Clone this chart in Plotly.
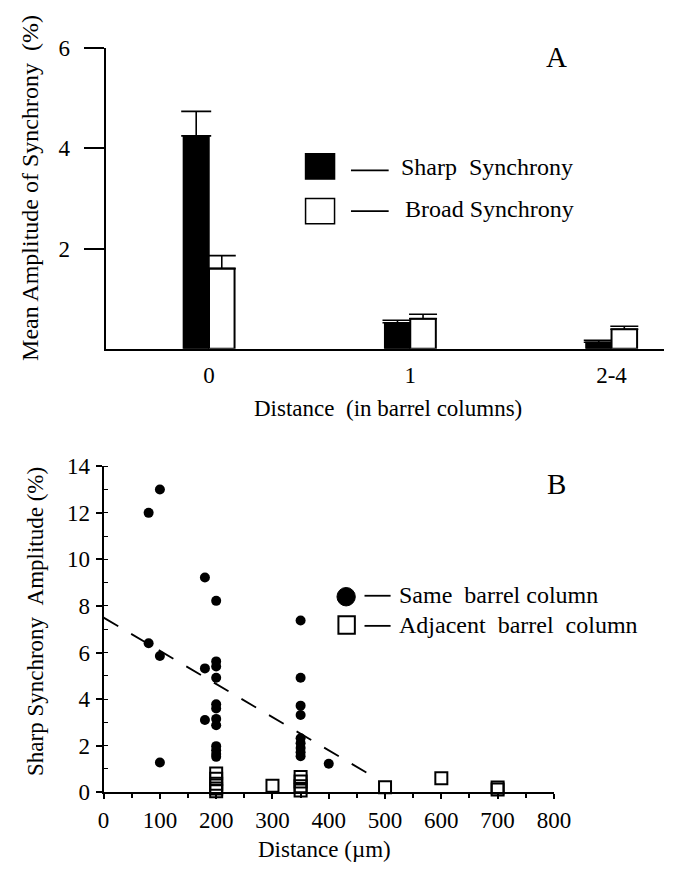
import plotly.graph_objects as go

# ---------------- Panel A: mean synchrony amplitude by barrel-column distance
col_labels = ["0", "1", "2-4"]
col_pos = [0, 1, 2]
sharp_mean = [4.25, 0.52, 0.13]
sharp_err = [0.49, 0.05, 0.04]
broad_mean = [1.60, 0.60, 0.39]
broad_err = [0.26, 0.09, 0.06]

# ---------------- Panel B: sharp synchrony amplitude vs. distance (µm)
same_x = [80, 80, 100, 100, 100,
          180, 180, 180,
          200, 200, 200, 200, 200, 200, 200, 200, 200, 200, 200, 200,
          350, 350, 350, 350, 350, 350, 350, 350, 350,
          400]
same_y = [12.0, 6.4, 13.0, 5.85, 1.28,
          9.22, 5.32, 3.1,
          8.22, 5.62, 5.4, 4.92, 3.78, 3.6, 3.15, 2.88, 1.98, 1.8, 1.64, 1.52,
          7.38, 4.92, 3.72, 3.32, 2.32, 2.1, 1.9, 1.72, 1.55,
          1.22]
adj_x = [200, 200, 200, 200, 200, 300, 350, 350, 350, 350, 500, 600, 700, 700]
adj_y = [0.8, 0.58, 0.36, 0.16, 0.04, 0.28, 0.66, 0.46, 0.26, 0.08, 0.22, 0.6, 0.2, 0.12]

# regression line through the same-column data
fit_intercept = 7.5
fit_slope = -0.01425
fit_x_end = 470

W, H = 683, 871
FONT = "Liberation Serif"


def px(x):
    return x / W


def py(y):
    return 1 - y / H


fig = go.Figure()

# bars (panel A)
bar_w = 0.127
fig.add_trace(go.Bar(
    x=col_pos, y=sharp_mean, width=bar_w, offset=-bar_w,
    marker=dict(color="black", line=dict(color="black", width=1.5)),
    error_y=dict(type="data", symmetric=False, array=sharp_err,
                 arrayminus=[0] * len(sharp_err), color="black",
                 thickness=1.6, width=15),
    xaxis="x", yaxis="y", showlegend=False))
fig.add_trace(go.Bar(
    x=col_pos, y=broad_mean, width=bar_w, offset=0,
    marker=dict(color="white", line=dict(color="black", width=2)),
    error_y=dict(type="data", symmetric=False, array=broad_err,
                 arrayminus=[0] * len(broad_err), color="black",
                 thickness=1.6, width=14),
    xaxis="x", yaxis="y", showlegend=False))

# scatter (panel B)
fig.add_trace(go.Scatter(
    x=[0, fit_x_end],
    y=[fit_intercept, fit_intercept + fit_slope * fit_x_end],
    mode="lines", line=dict(color="black", width=1.8, dash="17px,15px"),
    xaxis="x2", yaxis="y2", showlegend=False, cliponaxis=False))
fig.add_trace(go.Scatter(
    x=adj_x, y=adj_y, mode="markers",
    marker=dict(symbol="square-open", size=12, color="black",
                line=dict(width=2, color="black")),
    xaxis="x2", yaxis="y2", showlegend=False, cliponaxis=False))
fig.add_trace(go.Scatter(
    x=same_x, y=same_y, mode="markers",
    marker=dict(symbol="circle", size=10, color="black"),
    xaxis="x2", yaxis="y2", showlegend=False, cliponaxis=False))

tickfont = dict(family=FONT, size=23, color="black")

fig.update_layout(
    width=W, height=H,
    margin=dict(l=0, r=0, t=0, b=0),
    paper_bgcolor="white", plot_bgcolor="white",
    barmode="overlay",
    font=dict(family=FONT, color="black"),
    xaxis=dict(domain=[px(103), px(681)], range=[-0.514, 2.261],
               tickmode="array", tickvals=col_pos, ticktext=col_labels,
               ticks="", showgrid=False, zeroline=False,
               showline=True, linecolor="black", linewidth=2,
               tickfont=tickfont, ticklabelstandoff=5,
               anchor="y", fixedrange=True),
    yaxis=dict(domain=[py(346.7), py(37.3)], range=[0, 6],
               tickvals=[2, 4, 6], ticks="outside", ticklen=20,
               tickwidth=1.6, tickcolor="black", showgrid=False,
               zeroline=False, showline=True, linecolor="black",
               linewidth=2, tickfont=tickfont, ticklabelstandoff=9,
               anchor="x"),
    xaxis2=dict(domain=[px(101), px(567)], range=[0, 800],
                dtick=100, tick0=0, ticks="outside", ticklen=5,
                tickwidth=1.5, tickcolor="black",
                minor=dict(dtick=50, ticks="outside", ticklen=4,
                           tickwidth=1.5, tickcolor="black"),
                showgrid=False, zeroline=False, showline=True,
                linecolor="black", linewidth=2, tickfont=tickfont,
                ticklabelstandoff=1, anchor="y2"),
    yaxis2=dict(domain=[py(803.3), py(467.7)], range=[0, 14],
                dtick=2, tick0=0, ticks="outside", ticklen=6,
                tickwidth=1.5, tickcolor="black",
                minor=dict(dtick=1, ticks="inside", ticklen=4,
                           tickwidth=1.2, tickcolor="black"),
                showgrid=False, zeroline=False, showline=True,
                linecolor="black", linewidth=2, tickfont=tickfont,
                ticklabelstandoff=1, anchor="x2"),
)

ann = []
shapes = []


def text(x, y, s, size=23, xanchor="center", angle=0):
    ann.append(dict(x=px(x), y=py(y), xref="paper", yref="paper", text=s,
                    showarrow=False, xanchor=xanchor, yanchor="middle",
                    textangle=angle,
                    font=dict(family=FONT, size=size, color="black")))


# axis titles
text(25, 181, "Mean Amplitude of Synchrony\u00a0\u00a0(%)", size=24, angle=-90)
text(395, 408, "Distance\u00a0\u00a0(in barrel columns)", size=23)
text(30, 627, "Sharp Synchrony\u00a0\u00a0Amplitude (%)", size=23, angle=-90)
text(330, 862, "Distance (\u00b5m)", size=23)

# panel letters
text(570, 46, "A", size=29)
text(570, 486, "B", size=29)

# legend, panel A
shapes.append(dict(type="rect", xref="paper", yref="paper",
                   x0=px(310), x1=px(340), y0=py(172), y1=py(146),
                   fillcolor="black", line=dict(color="black", width=1.5)))
shapes.append(dict(type="rect", xref="paper", yref="paper",
                   x0=px(310), x1=px(340), y0=py(218), y1=py(192),
                   fillcolor="white", line=dict(color="black", width=1.5)))
for yy in (163, 205):
    shapes.append(dict(type="line", xref="paper", yref="paper",
                       x0=px(357), x1=px(396), y0=py(yy), y1=py(yy),
                       line=dict(color="black", width=1.8)))
text(407, 160, "Sharp\u00a0\u00a0Synchrony", size=24, xanchor="left")
text(411, 203, "Broad Synchrony", size=24, xanchor="left")

# legend, panel B
shapes.append(dict(type="circle", xref="paper", yref="paper",
                   x0=px(342.5), x1=px(361.5), y0=py(611.5), y1=py(592.5),
                   fillcolor="black", line=dict(color="black", width=1)))
shapes.append(dict(type="rect", xref="paper", yref="paper",
                   x0=px(344), x1=px(361), y0=py(640), y1=py(622),
                   fillcolor="white", line=dict(color="black", width=2)))
for yy in (601, 632):
    shapes.append(dict(type="line", xref="paper", yref="paper",
                       x0=px(371), x1=px(398), y0=py(yy), y1=py(yy),
                       line=dict(color="black", width=1.8)))
text(405, 600, "Same\u00a0\u00a0barrel column", size=24, xanchor="left")
text(405, 631, "Adjacent\u00a0\u00a0barrel\u00a0\u00a0column", size=24, xanchor="left")

fig.update_layout(annotations=ann, shapes=shapes)

fig.write_html("out.html")
